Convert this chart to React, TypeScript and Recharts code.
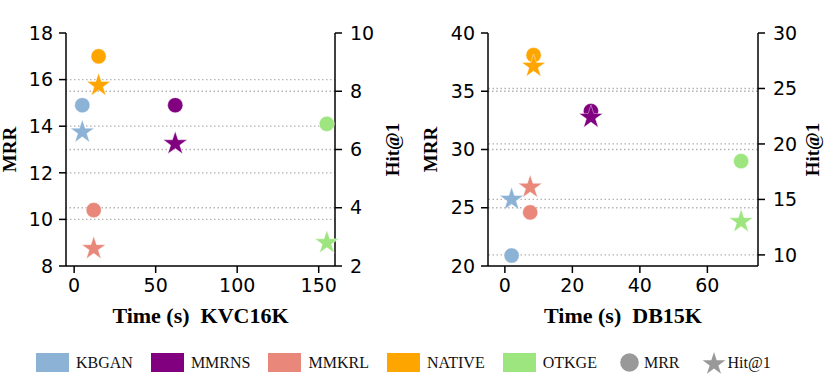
import { ScatterChart, Scatter, XAxis, YAxis, ReferenceLine } from 'recharts'

const models = ['KBGAN', 'MMRNS', 'MMKRL', 'NATIVE', 'OTKGE']
const colors = ['#8cb2d5', '#800080', '#e9887a', '#ffa500', '#9de57e']

// KVC16K panel
const kvcTime = [5, 62, 12, 15, 155]
const kvcMrr = [14.9, 14.9, 10.4, 17.0, 14.1]
const kvcHit = [6.6, 6.2, 2.6, 8.2, 2.8]
const kvcTimeTicks = [0, 50, 100, 150]
const kvcMrrTicks = [8, 10, 12, 14, 16, 18]
const kvcHitTicks = [2, 4, 6, 8, 10]

// DB15K panel
const dbTime = [2, 25.5, 7.5, 8.5, 70]
const dbMrr = [20.9, 33.3, 24.6, 38.1, 29.0]
const dbHit = [15.0, 22.4, 16.1, 27.0, 13.0]
const dbTimeTicks = [0, 20, 40, 60]
const dbMrrTicks = [20, 25, 30, 35, 40]
const dbHitTicks = [10, 15, 20, 25, 30]

const tickFont = { fill: '#000', fontSize: 19, fontFamily: 'DejaVu Sans' }
const labelFont = { fontFamily: 'Liberation Serif', fontWeight: 'bold', fill: '#000' }
const axisLine = { stroke: '#000', strokeWidth: 1.5 }
const grid = { stroke: '#b3b3b3', strokeWidth: 1.3, strokeDasharray: '1.5 2.5' }

function starPath(cx: number, cy: number, r: number) {
  const pts: string[] = []
  for (let i = 0; i < 10; i++) {
    const rad = i % 2 === 0 ? r : r * 0.382
    const a = -Math.PI / 2 + (i * Math.PI) / 5
    pts.push(`${(cx + rad * Math.cos(a)).toFixed(2)},${(cy + rad * Math.sin(a)).toFixed(2)}`)
  }
  return 'M' + pts.join('L') + 'Z'
}

const Dot = (p: any) => <circle cx={p.cx} cy={p.cy} r={7.6} fill={p.fill} stroke="#fff" strokeWidth={0.4} />
const Star = (p: any) => <path d={starPath(p.cx, p.cy, 12.5)} fill={p.fill} stroke="#fff" strokeWidth={0.4} />

interface PanelProps {
  time: number[]
  mrr: number[]
  hit: number[]
  timeTicks: number[]
  mrrTicks: number[]
  hitTicks: number[]
  xDomain: [number, number]
  hitDomain: [number, number]
  xLabel: string
  width: number
  margin: { top: number; right: number; bottom: number; left: number }
  mrrOffset: number
  hitOffset: number
}

function Panel(props: PanelProps) {
  const { time, mrr, hit, mrrTicks, hitTicks, hitDomain } = props
  const mrrDomain: [number, number] = [mrrTicks[0], mrrTicks[mrrTicks.length - 1]]
  const inside = (v: number, d: [number, number]) => v > d[0] && v < d[1]
  return (
    <ScatterChart width={props.width} height={330} margin={props.margin}>
      {mrrTicks.filter(v => inside(v, mrrDomain)).map(v => (
        <ReferenceLine key={'m' + v} y={v} yAxisId="mrr" {...grid} />
      ))}
      {hitTicks.filter(v => inside(v, hitDomain)).map(v => (
        <ReferenceLine key={'h' + v} y={v} yAxisId="hit" {...grid} />
      ))}
      <XAxis
        type="number"
        dataKey="x"
        domain={props.xDomain}
        ticks={props.timeTicks}
        interval={0}
        height={57}
        tick={tickFont}
        tickSize={7}
        tickMargin={6}
        tickLine={axisLine}
        axisLine={axisLine}
        label={{
          value: props.xLabel,
          position: 'insideBottom',
          offset: 0,
          style: { ...labelFont, fontSize: 22 },
        }}
      />
      <XAxis
        xAxisId="top"
        orientation="top"
        type="number"
        domain={props.xDomain}
        height={0}
        tick={false}
        tickLine={false}
        axisLine={axisLine}
      />
      <YAxis
        yAxisId="mrr"
        type="number"
        dataKey="y"
        domain={mrrDomain}
        ticks={mrrTicks}
        interval={0}
        width={60}
        tick={tickFont}
        tickSize={7}
        tickMargin={6}
        tickLine={axisLine}
        axisLine={axisLine}
        label={{
          value: 'MRR',
          angle: -90,
          position: 'insideLeft',
          offset: props.mrrOffset,
          style: { ...labelFont, fontSize: 19, textAnchor: 'middle' },
        }}
      />
      <YAxis
        yAxisId="hit"
        orientation="right"
        type="number"
        dataKey="y"
        domain={hitDomain}
        ticks={hitTicks}
        interval={0}
        width={60}
        tick={tickFont}
        tickSize={7}
        tickMargin={8}
        tickLine={axisLine}
        axisLine={axisLine}
        label={{
          value: 'Hit@1',
          angle: -90,
          position: 'insideRight',
          offset: props.hitOffset,
          style: { ...labelFont, fontSize: 19, textAnchor: 'middle' },
        }}
      />
      {models.map((m, i) => (
        <Scatter
          key={m + '-mrr'}
          name={m}
          yAxisId="mrr"
          data={[{ x: time[i], y: mrr[i] }]}
          fill={colors[i]}
          shape={Dot}
          isAnimationActive={false}
        />
      ))}
      {models.map((m, i) => (
        <Scatter
          key={m + '-hit'}
          name={m}
          yAxisId="hit"
          data={[{ x: time[i], y: hit[i] }]}
          fill={colors[i]}
          shape={Star}
          isAnimationActive={false}
        />
      ))}
    </ScatterChart>
  )
}

function LegendRow() {
  const text = { fontFamily: 'Liberation Serif', fontSize: 16, color: '#111', marginLeft: 6 }
  return (
    <div
      style={{
        position: 'absolute',
        left: 36,
        top: 353,
        height: 19,
        display: 'flex',
        alignItems: 'center',
        gap: 18,
        lineHeight: '19px',
      }}
    >
      {models.map((m, i) => (
        <div key={m} style={{ display: 'flex', alignItems: 'center' }}>
          <div style={{ width: 33, height: 19, background: colors[i] }} />
          <span style={{ ...text, marginLeft: 7 }}>{m}</span>
        </div>
      ))}
      <div style={{ display: 'flex', alignItems: 'center', marginLeft: 5 }}>
        <svg width={19} height={19}>
          <circle cx={9.5} cy={9.5} r={9.3} fill="#999" />
        </svg>
        <span style={{ ...text, marginLeft: 5 }}>MRR</span>
      </div>
      <div style={{ display: 'flex', alignItems: 'center', marginLeft: 5 }}>
        <svg width={24} height={24}>
          <path d={starPath(12, 13, 12)} fill="#999" />
        </svg>
        <span style={{ ...text, marginLeft: 1 }}>Hit@1</span>
      </div>
    </div>
  )
}

export default function App() {
  return (
    <div style={{ position: 'absolute', left: 0, top: 0, width: 831, height: 382, background: '#fff' }}>
      <div style={{ position: 'absolute', left: 0, top: 0 }}>
        <Panel
          time={kvcTime}
          mrr={kvcMrr}
          hit={kvcHit}
          timeTicks={kvcTimeTicks}
          mrrTicks={kvcMrrTicks}
          hitTicks={kvcHitTicks}
          xDomain={[-5, 160]}
          hitDomain={[2, 10]}
          xLabel={'Time (s)\u00a0\u00a0KVC16K'}
          width={415}
          margin={{ top: 33, right: 20, bottom: 7, left: 6 }}
          mrrOffset={3}
          hitOffset={2.5}
        />
      </div>
      <div style={{ position: 'absolute', left: 415, top: 0 }}>
        <Panel
          time={dbTime}
          mrr={dbMrr}
          hit={dbHit}
          timeTicks={dbTimeTicks}
          mrrTicks={dbMrrTicks}
          hitTicks={dbHitTicks}
          xDomain={[-5, 75]}
          hitDomain={[9, 30]}
          xLabel={'Time (s)\u00a0\u00a0DB15K'}
          width={416}
          margin={{ top: 33, right: 13, bottom: 7, left: 13 }}
          mrrOffset={2}
          hitOffset={6}
        />
      </div>
      <LegendRow />
    </div>
  )
}
